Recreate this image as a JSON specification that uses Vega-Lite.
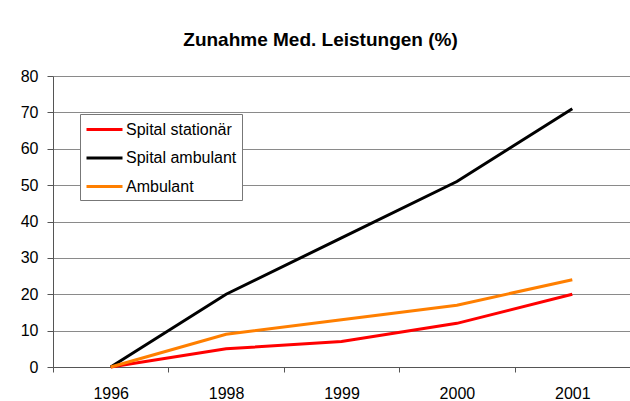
{
  "$schema": "https://vega.github.io/schema/vega-lite/v6.json",
  "width": 577,
  "height": 291,
  "autosize": "none",
  "padding": {"left": 53, "top": 76, "right": 0, "bottom": 34},
  "background": "white",
  "title": {
    "text": "Zunahme Med. Leistungen (%)",
    "font": "Liberation Sans",
    "fontSize": 19,
    "fontWeight": "bold",
    "color": "#000000",
    "anchor": "middle",
    "dx": -21,
    "offset": 18
  },
  "config": {
    "view": {"stroke": null},
    "font": "Liberation Sans"
  },
  "data": {
    "values": [
      {"Jahr": "1996", "Serie": "Spital stationär", "Wert": 0},
      {"Jahr": "1998", "Serie": "Spital stationär", "Wert": 5},
      {"Jahr": "1999", "Serie": "Spital stationär", "Wert": 7},
      {"Jahr": "2000", "Serie": "Spital stationär", "Wert": 12},
      {"Jahr": "2001", "Serie": "Spital stationär", "Wert": 20},
      {"Jahr": "1996", "Serie": "Spital ambulant", "Wert": 0},
      {"Jahr": "1998", "Serie": "Spital ambulant", "Wert": 20},
      {"Jahr": "1999", "Serie": "Spital ambulant", "Wert": 35.5},
      {"Jahr": "2000", "Serie": "Spital ambulant", "Wert": 51},
      {"Jahr": "2001", "Serie": "Spital ambulant", "Wert": 71},
      {"Jahr": "1996", "Serie": "Ambulant", "Wert": 0},
      {"Jahr": "1998", "Serie": "Ambulant", "Wert": 9},
      {"Jahr": "1999", "Serie": "Ambulant", "Wert": 13},
      {"Jahr": "2000", "Serie": "Ambulant", "Wert": 17},
      {"Jahr": "2001", "Serie": "Ambulant", "Wert": 24}
    ]
  },
  "mark": {"type": "line", "strokeWidth": 3},
  "encoding": {
    "x": {
      "field": "Jahr",
      "type": "ordinal",
      "bandPosition": 0.5,
      "scale": {"type": "band", "paddingInner": 0, "paddingOuter": 0},
      "axis": {
        "title": null,
        "labelAngle": 0,
        "tickBand": "extent",
        "grid": false,
        "domainColor": "#555555",
        "tickColor": "#555555",
        "tickSize": 5,
        "labelFontSize": 16,
        "labelColor": "#000000",
        "labelPadding": 13
      }
    },
    "y": {
      "field": "Wert",
      "type": "quantitative",
      "scale": {"domain": [0, 80], "nice": false},
      "axis": {
        "title": null,
        "values": [0, 10, 20, 30, 40, 50, 60, 70, 80],
        "gridColor": "#8a8a8a",
        "gridOpacity": 1,
        "domainColor": "#555555",
        "tickColor": "#555555",
        "tickSize": 6,
        "labelFontSize": 16,
        "labelColor": "#000000",
        "labelPadding": 9
      }
    },
    "color": {
      "field": "Serie",
      "type": "nominal",
      "sort": ["Spital stationär", "Spital ambulant", "Ambulant"],
      "scale": {
        "domain": ["Spital stationär", "Spital ambulant", "Ambulant"],
        "range": ["#ff0000", "#000000", "#ff7f00"]
      },
      "legend": {
        "title": null,
        "orient": "none",
        "legendX": 27,
        "legendY": 38,
        "symbolType": "M-1,0H3",
        "symbolSize": 324,
        "symbolStrokeWidth": 3,
        "labelFontSize": 16,
        "labelColor": "#000000",
        "fillColor": "white",
        "strokeColor": "#777777",
        "padding": 5,
        "rowPadding": 9.5,
        "labelOffset": 20
      }
    }
  }
}
